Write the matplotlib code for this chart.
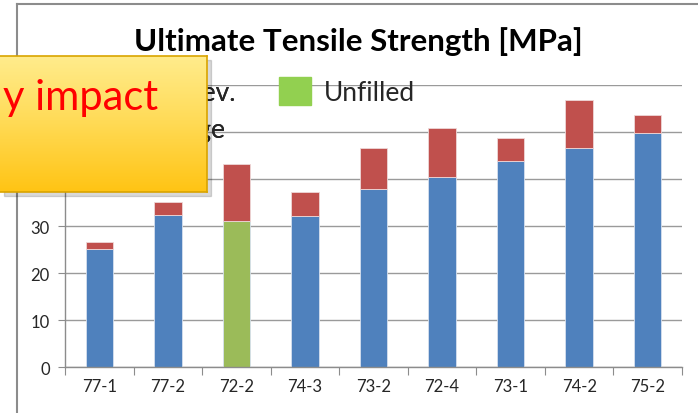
import numpy as np
import matplotlib.pyplot as plt
from matplotlib.patches import Patch, Rectangle
from matplotlib.lines import Line2D

samples = ["77-1", "77-2", "72-2", "74-3", "73-2", "72-4", "73-1", "74-2", "75-2"]
average = [25.1, 32.4, 31.0, 32.2, 37.8, 40.4, 43.8, 46.7, 49.9]
std_dev = [1.5, 2.7, 12.2, 5.1, 8.9, 10.4, 4.9, 10.1, 3.8]
unfilled = ["72-2"]

plt.rcParams['font.family'] = ['Lato', 'DejaVu Sans']

W, H = 698, 414
fig = plt.figure(figsize=(W / 100, H / 100), dpi=100)

# chart frame (only top and left edges fall inside the image)
fig.add_artist(Line2D([17 / W, 1], [1 - 5 / H, 1 - 5 / H], transform=fig.transFigure,
                      color='#8c8c8c', lw=1.5))
fig.add_artist(Line2D([17 / W, 17 / W], [0, 1 - 5 / H], transform=fig.transFigure,
                      color='#8c8c8c', lw=1.5))

ax = fig.add_axes([65 / W, 1 - 368.3 / H, 617 / W, (368.3 - 86) / H])
x = np.arange(len(samples))
base_colors = ['#9BBB59' if s in unfilled else '#4F81BD' for s in samples]
ax.bar(x, average, 0.4, color=base_colors, edgecolor='#d6e0ee', linewidth=0.6, zorder=2)
ax.bar(x, std_dev, 0.4, bottom=average, color='#C0504D', edgecolor='#eed8d8',
       linewidth=0.6, zorder=2)

ax.set_xlim(-0.5, len(samples) - 0.5)
ax.set_ylim(0, 60)
ax.set_yticks(range(0, 61, 10))
ax.grid(axis='y', color='#9a9a9a', lw=1)
ax.set_axisbelow(True)
for side in ['top', 'right']:
    ax.spines[side].set_visible(False)
for side in ['left', 'bottom']:
    ax.spines[side].set_color('#8c8c8c')
    ax.spines[side].set_linewidth(1)

# category labels sit between the boundary tick marks
ax.set_xticks(np.arange(len(samples) + 1) - 0.5)
ax.set_xticklabels([])
ax.set_xticks(x, minor=True)
ax.set_xticklabels(samples, minor=True)
ax.tick_params(axis='x', which='major', length=6, color='#8c8c8c')
ax.tick_params(axis='x', which='minor', length=0, pad=8, labelsize=12, labelcolor='#262626')
ax.tick_params(axis='y', length=5, color='#8c8c8c', labelsize=12, labelcolor='#262626', pad=6)

fig.text(358 / W, 1 - 42 / H, 'Ultimate Tensile Strength [MPa]', ha='center', va='center',
         fontsize=22.5, fontweight='bold', color='black')

# legend in two pieces: first column (Std. Dev. / Average), then Unfilled
leg_kw = dict(loc='upper left', frameon=False, fontsize=19, handlelength=1.21,
              handleheight=1.25, labelspacing=0.35, handletextpad=0.5, labelcolor='#262626')
leg1 = fig.legend(handles=[Patch(color='#C0504D', label='Std. Dev.'),
                           Patch(color='#4F81BD', label='Average')],
                  bbox_to_anchor=(61 / W, 1 - 54 / H), **leg_kw)
fig.legend(handles=[Patch(color='#92D050', label='Unfilled')],
           bbox_to_anchor=(255 / W, 1 - 54 / H), **leg_kw)
fig.add_artist(leg1)

# yellow callout box over the upper left corner
fig.add_artist(Rectangle((4 / W, 1 - 197 / H), 207 / W, 136 / H, transform=fig.transFigure,
                         color='black', alpha=0.15, zorder=9))
bx = fig.add_axes([0, 1 - 193 / H, 207 / W, 136 / H], zorder=10)
grad = np.linspace(0, 1, 100)[:, None]
cols = np.array([[255, 236, 140], [255, 220, 90], [255, 196, 20]]) / 255
stops = np.array([0, 0.45, 1])
img = np.stack([np.interp(grad[:, 0], stops, cols[:, i]) for i in range(3)], axis=1)
bx.imshow(img[:, None, :], aspect='auto', extent=(0, 1, 0, 1))
bx.set_xlim(0, 1)
bx.set_ylim(0, 1)
bx.set_xticks([])
bx.set_yticks([])
bx.spines['left'].set_visible(False)
for s in ['top', 'right', 'bottom']:
    bx.spines[s].set_color('#d9a400')
    bx.spines[s].set_linewidth(1.2)
bx.text(158 / 207, (193 - 110) / 136, 'y impact', ha='right', va='baseline',
        fontsize=30, color='#ff0000')

fig.savefig('out.png', dpi=100)
